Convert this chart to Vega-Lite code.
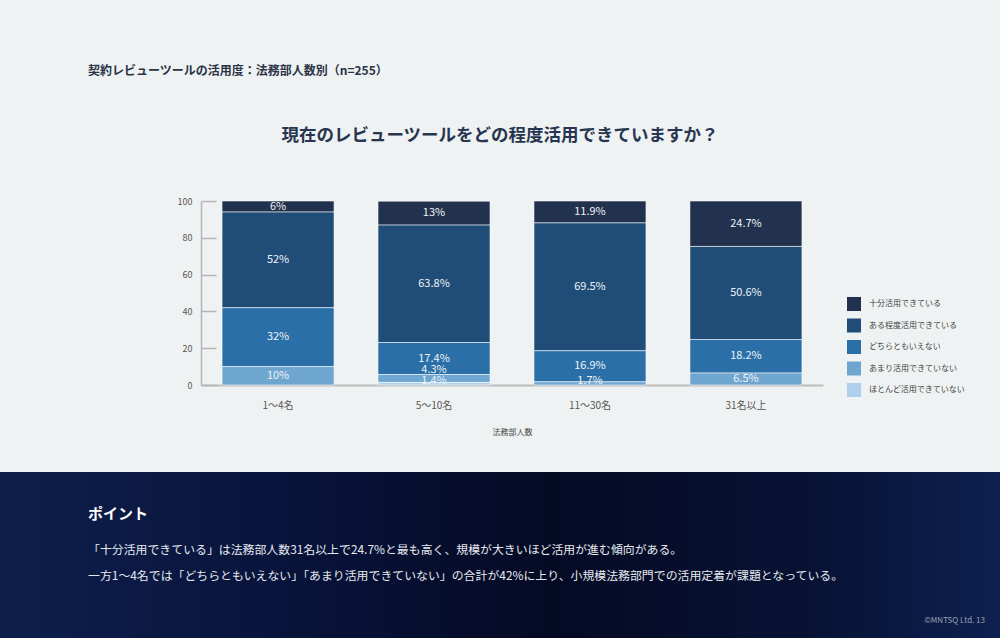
{
  "$schema": "https://vega.github.io/schema/vega-lite/v6.json",
  "padding": 0,
  "background": "#eff2f2",
  "spacing": 0,
  "bounds": "flush",
  "config": {
    "view": {"stroke": null},
    "font": "Noto Sans CJK JP"
  },
  "title": {
    "text": "契約レビューツールの活用度：法務部人数別（n=255）",
    "anchor": "start",
    "frame": "group",
    "dx": 88,
    "offset": -78,
    "fontSize": 12,
    "fontWeight": "bold",
    "color": "#2a3347",
    "font": "Noto Sans CJK JP"
  },
  "vconcat": [
    {
      "width": 1000,
      "height": 472,
      "title": {
        "text": "現在のレビューツールをどの程度活用できていますか？",
        "anchor": "middle",
        "frame": "group",
        "offset": -144,
        "fontSize": 17.5,
        "fontWeight": "bold",
        "color": "#283550",
        "font": "Noto Sans CJK JP"
      },
      "data": {
        "values": [
          {"group": "1〜4名", "level": "十分活用できている", "rank": 1, "value": 6},
          {"group": "1〜4名", "level": "ある程度活用できている", "rank": 2, "value": 52},
          {"group": "1〜4名", "level": "どちらともいえない", "rank": 3, "value": 32},
          {"group": "1〜4名", "level": "あまり活用できていない", "rank": 4, "value": 10},
          {"group": "5〜10名", "level": "十分活用できている", "rank": 1, "value": 13},
          {"group": "5〜10名", "level": "ある程度活用できている", "rank": 2, "value": 63.8},
          {"group": "5〜10名", "level": "どちらともいえない", "rank": 3, "value": 17.4},
          {"group": "5〜10名", "level": "あまり活用できていない", "rank": 4, "value": 4.3},
          {"group": "5〜10名", "level": "ほとんど活用できていない", "rank": 5, "value": 1.4},
          {"group": "11〜30名", "level": "十分活用できている", "rank": 1, "value": 11.9},
          {"group": "11〜30名", "level": "ある程度活用できている", "rank": 2, "value": 69.5},
          {"group": "11〜30名", "level": "どちらともいえない", "rank": 3, "value": 16.9},
          {"group": "11〜30名", "level": "あまり活用できていない", "rank": 4, "value": 1.7},
          {"group": "31名以上", "level": "十分活用できている", "rank": 1, "value": 24.7},
          {"group": "31名以上", "level": "ある程度活用できている", "rank": 2, "value": 50.6},
          {"group": "31名以上", "level": "どちらともいえない", "rank": 3, "value": 18.2},
          {"group": "31名以上", "level": "あまり活用できていない", "rank": 4, "value": 6.5}
        ]
      },
      "transform": [
        {
          "stack": "value",
          "groupby": ["group"],
          "sort": [{"field": "rank", "order": "descending"}],
          "as": ["v0", "v1"]
        }
      ],
      "encoding": {
        "x": {
          "field": "group",
          "type": "nominal",
          "sort": ["1〜4名", "5〜10名", "11〜30名", "31名以上"],
          "scale": {"range": [201, 823], "paddingInner": 0.282, "paddingOuter": 0.135},
          "axis": {
            "orient": "bottom",
            "offset": -87,
            "title": "法務部人数",
            "titleFontSize": 8,
            "titleFontWeight": "normal",
            "titleColor": "#444444",
            "titlePadding": 18,
            "ticks": false,
            "domainColor": "#bdbdbd",
            "domainWidth": 2,
            "labelFontSize": 10,
            "labelColor": "#555555",
            "labelPadding": 15,
            "labelAngle": 0
          }
        }
      },
      "layer": [
        {
          "mark": {"type": "bar", "stroke": "#ffffff", "strokeOpacity": 0.55, "strokeWidth": 1},
          "encoding": {
            "y": {
              "field": "v0",
              "type": "quantitative",
              "scale": {"domain": [0, 100], "range": [385, 201], "nice": false},
              "axis": {
                "orient": "left",
                "offset": -201,
                "values": [0, 20, 40, 60, 80, 100],
                "grid": false,
                "title": null,
                "domainColor": "#b5b5b5",
                "domainWidth": 1.5,
                "tickColor": "#b5b5b5",
                "tickWidth": 1.5,
                "tickSize": -15,
                "labelPadding": 24,
                "labelFontSize": 9,
                "labelColor": "#555555"
              }
            },
            "y2": {"field": "v1"},
            "color": {
              "field": "level",
              "type": "nominal",
              "scale": {
                "domain": ["十分活用できている", "ある程度活用できている", "どちらともいえない", "あまり活用できていない", "ほとんど活用できていない"],
                "range": ["#22314d", "#1f4d77", "#2a6fa7", "#6ea6d0", "#aed0ec"]
              },
              "legend": {
                "orient": "none",
                "legendX": 847,
                "legendY": 297,
                "title": null,
                "padding": 0,
                "symbolType": "square",
                "symbolSize": 196,
                "symbolStrokeWidth": 0,
                "symbolOpacity": 1,
                "labelFontSize": 8,
                "labelColor": "#444444",
                "labelOffset": 8,
                "rowPadding": 7.5
              }
            }
          }
        },
        {
          "transform": [
            {"fold": ["v0", "v1"], "as": ["edge", "pos"]},
            {"aggregate": [{"op": "mean", "field": "pos", "as": "mid"}], "groupby": ["group", "level", "value"]}
          ],
          "mark": {
            "type": "text",
            "color": "#eef3f8",
            "fontSize": 11,
            "dy": {"expr": "datum.value < 3 ? -2.5 : datum.value < 5 ? -8 : 0"},
            "text": {"expr": "format(datum.value, '.1~f') + '%'"}
          },
          "encoding": {
            "y": {"field": "mid", "type": "quantitative"}
          }
        }
      ]
    },
    {
      "width": 1000,
      "height": 136,
      "data": {"values": [{"section": "ポイント"}]},
      "title": {
        "text": "ポイント",
        "subtitle": [
          "「十分活用できている」は法務部人数31名以上で24.7%と最も高く、規模が大きいほど活用が進む傾向がある。",
          "一方1〜4名では「どちらともいえない」「あまり活用できていない」の合計が42%に上り、小規模法務部門での活用定着が課題となっている。"
        ],
        "anchor": "start",
        "frame": "group",
        "dx": 88,
        "offset": -110,
        "fontSize": 15,
        "fontWeight": "bold",
        "color": "#ffffff",
        "font": "Noto Sans CJK JP",
        "subtitleFont": "Noto Sans CJK JP",
        "subtitleFontSize": 11.9,
        "subtitleColor": "#e6e9f0",
        "subtitleLineHeight": 26,
        "subtitlePadding": 23
      },
      "mark": {
        "type": "rect",
        "fill": {
          "gradient": "linear",
          "x1": 0, "y1": 0, "x2": 1, "y2": 0,
          "stops": [
            {"offset": 0, "color": "#0e1f4c"},
            {"offset": 0.3, "color": "#08133a"},
            {"offset": 0.55, "color": "#050a24"},
            {"offset": 0.8, "color": "#071233"},
            {"offset": 1, "color": "#0d2050"}
          ]
        }
      },
      "encoding": {}
    },
    {
      "width": 1000,
      "height": 30,
      "data": {"values": [{"section": "footer"}]},
      "title": {
        "text": "©MNTSQ Ltd.  13",
        "anchor": "end",
        "frame": "group",
        "dx": -15,
        "offset": -17,
        "fontSize": 8,
        "fontWeight": "normal",
        "color": "#9aa0ad",
        "font": "Noto Sans CJK JP"
      },
      "mark": {
        "type": "rect",
        "fill": {
          "gradient": "linear",
          "x1": 0, "y1": 0, "x2": 1, "y2": 0,
          "stops": [
            {"offset": 0, "color": "#0e1f4c"},
            {"offset": 0.3, "color": "#08133a"},
            {"offset": 0.55, "color": "#050a24"},
            {"offset": 0.8, "color": "#071233"},
            {"offset": 1, "color": "#0d2050"}
          ]
        }
      },
      "encoding": {}
    }
  ]
}
